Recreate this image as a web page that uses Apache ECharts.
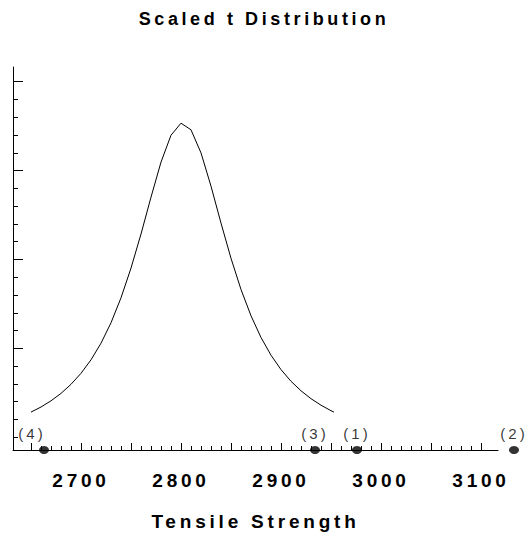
<!DOCTYPE html>
<html><head><meta charset="utf-8">
<script src="https://cdn.jsdelivr.net/npm/echarts@6/dist/echarts.min.js"></script>
<style>
html,body{margin:0;padding:0;background:#fff}
#chart{width:528px;height:536px}
#chart text{letter-spacing:0.2em}
</style></head><body><div id="chart"></div>
<script>
const titleText = 'Scaled t Distribution';
const xAxisName = 'Tensile Strength';
const curveX = [2650,2660,2670,2680,2690,2700,2710,2720,2730,2740,2750,2760,2770,2780,2790,2800,2810,2820,2830,2840,2850,2860,2870,2880,2890,2900,2910,2920,2930,2940,2950,2953];
const curveY = [0.379,0.430,0.492,0.566,0.657,0.767,0.902,1.068,1.272,1.522,1.819,2.160,2.528,2.879,3.148,3.268,3.202,2.971,2.638,2.269,1.917,1.605,1.342,1.125,0.948,0.804,0.687,0.592,0.513,0.448,0.393,0.379];
const pointLabels = ['(1)','(2)','(3)','(4)'];
const pointX = [2976,3133,2934,2663];
const xTickLabels = [2700,2800,2900,3000,3100];

const FONT = 'Liberation Sans, Arial, sans-serif';
const chart = echarts.init(document.getElementById('chart'), null, {renderer:'svg'});
const black = '#000';
const hiddenAxis = (gi) => ({gridIndex: gi, show: false, type: 'value', min: 0, max: 1});

chart.setOption({
  animation: false,
  backgroundColor: '#fff',
  title: {
    text: titleText, left: 'center', top: 5,
    textStyle: {fontFamily: FONT, fontSize: 18, fontWeight: 'bold', color: black}
  },
  grid: [
    {left: 13, right: 30, top: 67, bottom: 86},
    {left: 31, right: 47, top: 67, bottom: 86},
    {left: 13, right: 30, top: 81.7, bottom: 98.8},
    {left: 13, right: 30, top: 81.7, bottom: 187.6}
  ],
  xAxis: [
    {gridIndex: 0, type: 'value', min: 2632, max: 3117, position: 'bottom',
     axisLine: {show: true, lineStyle: {color: black, width: 1}}, axisTick: {show: false},
     axisLabel: {show: false}, splitLine: {show: false},
     name: xAxisName, nameLocation: 'middle', nameGap: 62,
     nameTextStyle: {fontFamily: FONT, fontSize: 19, fontWeight: 'bold', color: black}},
    {gridIndex: 1, type: 'value', min: 2650, max: 3100, interval: 10, position: 'bottom',
     axisLine: {show: false}, axisTick: {show: true, inside: true, length: 4, lineStyle: {color: black, width: 1}},
     axisLabel: {show: false}, splitLine: {show: false}},
    {gridIndex: 1, type: 'value', min: 2650, max: 3100, interval: 50, position: 'bottom',
     axisLine: {show: false}, axisTick: {show: true, inside: true, length: 7, lineStyle: {color: black, width: 1}},
     axisLabel: {show: true, margin: 21, fontFamily: FONT, fontSize: 19, fontWeight: 'bold', color: black,
       formatter: v => xTickLabels.includes(v) ? String(v) : ''},
     splitLine: {show: false}},
    hiddenAxis(2),
    hiddenAxis(3)
  ],
  yAxis: [
    {gridIndex: 0, type: 'value', min: 0, max: 3.83, position: 'left',
     axisLine: {show: true, lineStyle: {color: black, width: 1}}, axisTick: {show: false},
     axisLabel: {show: false}, splitLine: {show: false}},
    hiddenAxis(1),
    {gridIndex: 2, type: 'value', min: 0, max: 20, interval: 1, position: 'left',
     axisLine: {show: false}, axisTick: {show: true, inside: true, length: 5, lineStyle: {color: black, width: 1}},
     axisLabel: {show: false}, splitLine: {show: false}},
    {gridIndex: 3, type: 'value', min: 0, max: 15, interval: 5, position: 'left',
     axisLine: {show: false}, axisTick: {show: true, inside: true, length: 10, lineStyle: {color: black, width: 1}},
     axisLabel: {show: false}, splitLine: {show: false}}
  ],
  series: [
    {type: 'line', xAxisIndex: 0, yAxisIndex: 0, showSymbol: false, symbol: 'none',
     data: curveX.map((x, i) => [x, curveY[i]]),
     lineStyle: {color: black, width: 1}, silent: true},
    {type: 'scatter', xAxisIndex: 0, yAxisIndex: 0, clip: false,
     symbol: 'circle', symbolSize: [10, 8], itemStyle: {color: black},
     data: pointX.map((x, i) => ({
       value: [x, 0],
       label: pointLabels[i] === '(4)' ? {offset: [-12, 0]} : {}
     })),
     label: {show: true, position: 'top', distance: 5, fontFamily: FONT, fontSize: 15, color: black,
       formatter: p => pointLabels[p.dataIndex]},
     silent: true}
  ]
});
</script></body></html>
